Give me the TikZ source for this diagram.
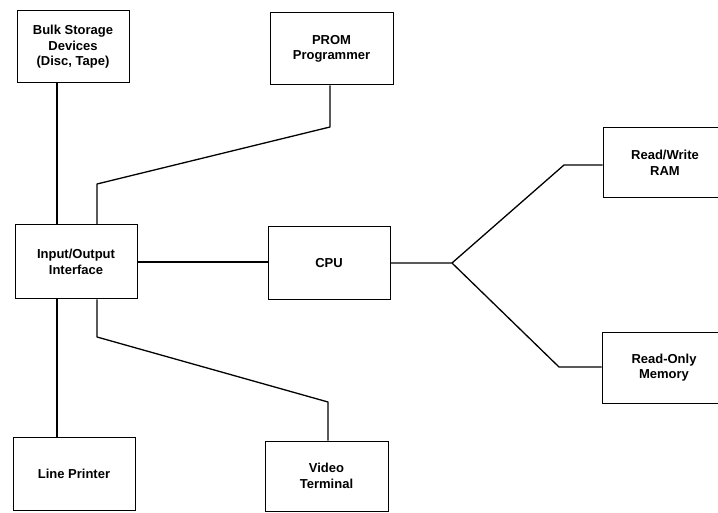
\documentclass[tikz,border=0pt]{standalone}
\usepackage{fontspec}
\setmainfont{Liberation Sans}
\begin{document}
\begin{tikzpicture}[x=1pt,y=-1pt,
  blk/.style={draw, line width=1pt, minimum width=#1, inner sep=0pt, align=center,
    font=\fontsize{13}{15.5}\selectfont\bfseries},
  blk/.default=122pt,
  wire/.style={line width=1.3pt, line join=round}]
\useasboundingbox[fill=white] (0,0) rectangle (718,513);

\node[blk=112pt, minimum height=72pt] (bulk) at (73,47) {Bulk Storage\\Devices\\(Disc, Tape)};
\node[blk=123pt, minimum height=72pt] (prom) at (331.5,49) {PROM\\Programmer};
\node[blk, minimum height=74pt] (io) at (76,262) {Input/Output\\Interface};
\node[blk, minimum height=73pt] (cpu) at (329,263.5) {CPU};
\node[blk=124pt, minimum height=70pt] (ram) at (665,163) {Read/Write\\RAM};
\node[blk=124pt, minimum height=71pt] (rom) at (664,367.5) {Read-Only\\Memory};
\node[blk, minimum height=73pt] (lp) at (74,473.5) {Line Printer};
\node[blk=123pt, minimum height=70pt] (video) at (326.5,476) {Video\\Terminal};

\coordinate (xa) at (57,0);
\coordinate (xb) at (97,0);
\coordinate (p1) at (330,127);
\coordinate (p2) at (97,184);
\coordinate (v1) at (97,337);
\coordinate (v2) at (328,402);
\coordinate (j) at (452,263);
\coordinate (r1) at (564,165);
\coordinate (m1) at (559,367);

\draw[wire] (bulk.south -| xa) -- (io.north -| xa);
\draw[wire] (prom.south -| p1) -- (p1) -- (p2) -- (io.north -| p2);
\draw[wire] (io.east |- 0,262) -- (cpu.west |- 0,262);
\draw[wire] (cpu.east |- j) -- (j) -- (r1) -- (ram.west |- r1);
\draw[wire] (j) -- (m1) -- (rom.west |- m1);
\draw[wire] (io.south -| xa) -- (lp.north -| xa);
\draw[wire] (io.south -| v1) -- (v1) -- (v2) -- (video.north -| v2);
\end{tikzpicture}
\end{document}
